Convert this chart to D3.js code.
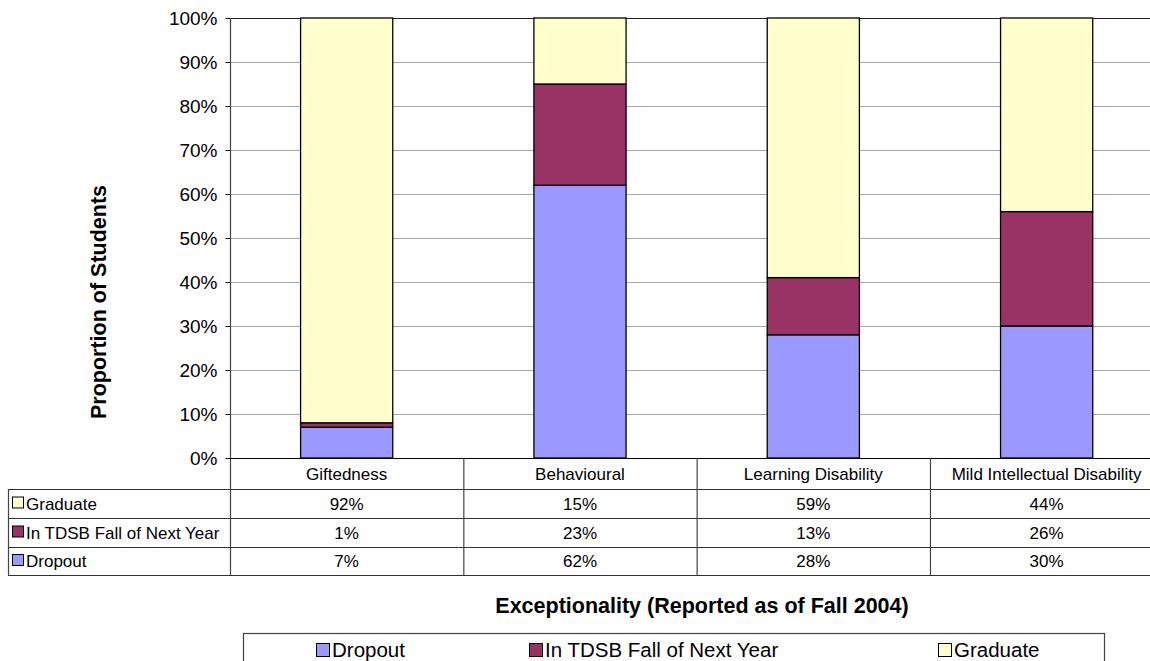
<!DOCTYPE html>
<html>
<head>
<meta charset="utf-8">
<script src="https://cdn.jsdelivr.net/npm/d3@7"></script>
<style>
  html, body { margin: 0; padding: 0; background: #fff; }
  svg { display: block; font-family: "Liberation Sans", Arial, sans-serif; }
</style>
</head>
<body>
<svg id="chart" width="1150" height="661"></svg>
<script>
// Outcomes by exceptionality (percent of students)
const categories = ["Giftedness", "Behavioural", "Learning Disability", "Mild Intellectual Disability"];
const dropout  = [7, 62, 28, 30];
const inTdsb   = [1, 23, 13, 26];
const graduate = [92, 15, 59, 44];
const seriesNames = ["Dropout", "In TDSB Fall of Next Year", "Graduate"];
const seriesColors = ["#9999FF", "#993366", "#FFFFCC"];
const yTicks = [0, 10, 20, 30, 40, 50, 60, 70, 80, 90, 100];

const svg = d3.select("#chart");

// layout
const plotLeft = 230, plotRight = 1163.3, plotTop = 18, plotBottom = 458;
const rowH = [31, 29, 29, 28];      // category row, then one row per series
const tableLeft = 8;

const rows = categories.map((c, i) => ({
  category: c,
  "Dropout": dropout[i],
  "In TDSB Fall of Next Year": inTdsb[i],
  "Graduate": graduate[i]
}));

const y = d3.scaleLinear().domain([0, 100]).range([plotBottom, plotTop]);
const xBar = d3.scaleBand().domain(categories).range([plotLeft, plotRight])
  .paddingInner(0.605).paddingOuter(0.3025);
const xCol = d3.scaleBand().domain(categories).range([plotLeft, plotRight]).padding(0);
const color = d3.scaleOrdinal().domain(seriesNames).range(seriesColors);

// gridlines
svg.append("g").selectAll("line").data(yTicks.filter(t => t > 0)).join("line")
  .attr("x1", plotLeft).attr("x2", plotRight)
  .attr("y1", d => y(d) + 0.5).attr("y2", d => y(d) + 0.5)
  .attr("stroke", d => d === 100 ? "#222" : "#a8a8a8")
  .attr("stroke-width", 1);

// y axis
const yAxis = d3.axisLeft(y).tickValues(yTicks).tickFormat(d => d + "%")
  .tickSize(5).tickPadding(8);
const gy = svg.append("g").attr("transform", `translate(${plotLeft + 0.5},0)`).call(yAxis);
gy.select(".domain").remove();
gy.selectAll(".tick line").attr("stroke", "#000");
gy.selectAll(".tick text").attr("font-size", 19).attr("fill", "#000")
  .attr("font-family", "Liberation Sans, Arial, sans-serif");

// stacked bars
const stack = d3.stack().keys(seriesNames)(rows);
svg.append("g").selectAll("g").data(stack).join("g")
  .attr("fill", d => color(d.key))
  .selectAll("rect").data(d => d).join("rect")
  .attr("x", d => xBar(d.data.category))
  .attr("width", xBar.bandwidth())
  .attr("y", d => y(d[1]))
  .attr("height", d => y(d[0]) - y(d[1]))
  .attr("stroke", "#000").attr("stroke-width", 1.3);

// axis line (left edge of plot and of data table)
const tableBottom = plotBottom + d3.sum(rowH);
svg.append("line").attr("x1", plotLeft + 0.5).attr("x2", plotLeft + 0.5)
  .attr("y1", plotTop).attr("y2", tableBottom).attr("stroke", "#444").attr("stroke-width", 1.2);

// data table
const tbl = svg.append("g").attr("font-size", 17).attr("fill", "#000");
const rowTops = [plotBottom];
rowH.forEach((h, i) => rowTops.push(rowTops[i] + h));

// horizontal rules
tbl.selectAll("line.h").data(rowTops).join("line").attr("class", "h")
  .attr("x1", (d, i) => i === 0 ? plotLeft : tableLeft)
  .attr("x2", plotRight)
  .attr("y1", d => d + 0.5).attr("y2", d => d + 0.5)
  .attr("stroke", (d, i) => i === 0 ? "#000" : "#333").attr("stroke-width", 1.2);

// vertical rules between category columns
tbl.selectAll("line.v").data(categories.slice(1)).join("line").attr("class", "v")
  .attr("x1", d => xCol(d) + 0.5).attr("x2", d => xCol(d) + 0.5)
  .attr("y1", plotBottom).attr("y2", tableBottom)
  .attr("stroke", "#444").attr("stroke-width", 1.2);
// left edge of the series-name column
tbl.append("line").attr("x1", tableLeft + 0.5).attr("x2", tableLeft + 0.5)
  .attr("y1", rowTops[1]).attr("y2", tableBottom).attr("stroke", "#444").attr("stroke-width", 1.2);

// category header
tbl.selectAll("text.cat").data(categories).join("text").attr("class", "cat")
  .attr("x", d => xCol(d) + xCol.bandwidth() / 2)
  .attr("y", (rowTops[0] + rowTops[1]) / 2)
  .attr("dy", "0.36em").attr("text-anchor", "middle").text(d => d);

// series rows, top to bottom: Graduate, In TDSB, Dropout
const tableSeries = [
  { name: "Graduate", values: graduate },
  { name: "In TDSB Fall of Next Year", values: inTdsb },
  { name: "Dropout", values: dropout }
];
tableSeries.forEach((s, r) => {
  const cy = (rowTops[r + 1] + rowTops[r + 2]) / 2;
  tbl.append("rect").attr("x", tableLeft + 4.5).attr("y", cy - 6.5)
    .attr("width", 11).attr("height", 11)
    .attr("fill", color(s.name)).attr("stroke", "#000").attr("stroke-width", 1);
  tbl.append("text").attr("x", tableLeft + 18).attr("y", cy).attr("dy", "0.36em").text(s.name);
  tbl.selectAll(null).data(s.values).join("text")
    .attr("x", (d, i) => xCol(categories[i]) + xCol.bandwidth() / 2)
    .attr("y", cy).attr("dy", "0.36em").attr("text-anchor", "middle")
    .text(d => d + "%");
});

// axis titles
svg.append("text").attr("transform", `translate(106,${302}) rotate(-90)`)
  .attr("text-anchor", "middle").attr("font-size", 21.5).attr("font-weight", "bold")
  .text("Proportion of Students");
svg.append("text").attr("x", 702).attr("y", 613)
  .attr("text-anchor", "middle").attr("font-size", 21.5).attr("font-weight", "bold")
  .text("Exceptionality (Reported as of Fall 2004)");

// legend
const lg = svg.append("g");
lg.append("rect").attr("x", 243.5).attr("y", 633.5).attr("width", 861).attr("height", 40)
  .attr("fill", "#fff").attr("stroke", "#444").attr("stroke-width", 1.2);
const legendX = [316, 529, 938];
seriesNames.forEach((n, i) => {
  lg.append("rect").attr("x", legendX[i] + 0.5).attr("y", 643.5).attr("width", 13).attr("height", 13)
    .attr("fill", color(n)).attr("stroke", "#000").attr("stroke-width", 1);
  lg.append("text").attr("x", legendX[i] + 16).attr("y", 650).attr("dy", "0.36em")
    .attr("font-size", 20.5).text(n);
});
</script>
</body>
</html>
